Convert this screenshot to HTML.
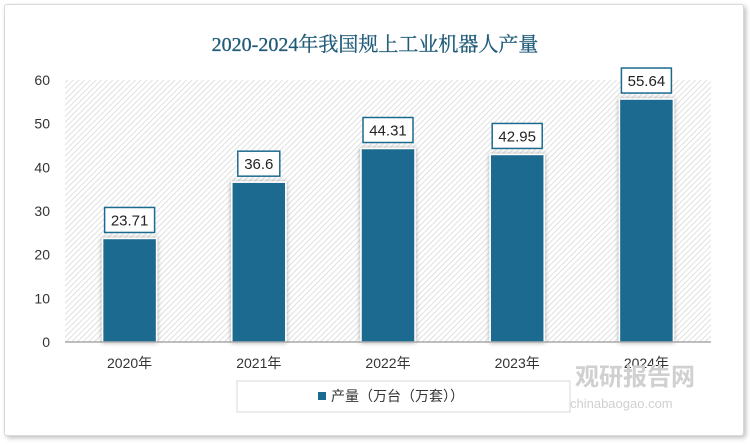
<!DOCTYPE html>
<html><head><meta charset="utf-8"><style>
body{margin:0;background:#fff;width:750px;height:445px;overflow:hidden;font-family:"Liberation Sans","Noto Sans CJK SC",sans-serif}
#frame{position:absolute;left:4px;top:4px;width:738px;height:430px;border:1px solid #d9d9d9;border-radius:3px;box-shadow:2px 2px 5px rgba(0,0,0,0.25);background:#fff}
</style></head><body>
<div id="frame"></div>
<svg id="c" width="750" height="445" style="position:absolute;left:0;top:0">
<defs>
<pattern id="hatch" width="4" height="4" patternUnits="userSpaceOnUse" patternTransform="rotate(45)">
<rect width="4" height="4" fill="#fff"/><line x1="0" y1="0" x2="0" y2="4" stroke="#d4d4d4" stroke-width="1.4"/>
</pattern>
<filter id="sh" x="-20%" y="-20%" width="140%" height="140%"><feDropShadow dx="0" dy="0" stdDeviation="2.5" flood-color="#000" flood-opacity="0.35"/></filter>
</defs>
<text x="375" y="51" text-anchor="middle" font-family="'Liberation Serif','Noto Serif CJK SC',serif" font-size="20" fill="#1f5a78" stroke="#1f5a78" stroke-width="0.3">2020-2024年我国规上工业机器人产量</text>
<rect x="65" y="80" width="646" height="262" fill="url(#hatch)"/>
<g id="yt"></g><g id="bars"></g>
<line x1="65" y1="342" x2="711" y2="342" stroke="#7f7f7f" stroke-width="1"/>
<rect x="237" y="381" width="333" height="31" fill="#fff" stroke="#d9d9d9"/>
<rect x="318" y="392" width="8" height="8" fill="#1b6a8f"/>
<text x="331" y="401" font-size="14" fill="#333">产量（万台（万套））</text>
<text x="575" y="385" font-size="24" font-weight="bold" fill="#d0d0d0">观研报告网</text>
<text x="570" y="408" font-size="13" fill="#d0d0d0">chinabaogao.com</text>
</svg>
<script>
const categories=["2020年","2021年","2022年","2023年","2024年"];
const values=[23.71,36.6,44.31,42.95,55.64];
const labels=["23.71","36.6","44.31","42.95","55.64"];
const yTicks=[0,10,20,30,40,50,60];
const NS="http://www.w3.org/2000/svg";
const x0=65,x1=711,y0=342,y1=80,ymax=60;
const y=v=>y0-(v/ymax)*(y0-y1);
const band=(x1-x0)/categories.length;
const xc=i=>x0+band*(i+0.5);
function mk(t,a,p){const e=document.createElementNS(NS,t);for(const k in a)e.setAttribute(k,a[k]);p.appendChild(e);return e;}
const yt=document.getElementById('yt'),bars=document.getElementById('bars');
yTicks.forEach(v=>{const t=mk('text',{x:50,y:y(v)+5,'text-anchor':'end','font-size':14,fill:'#333'},yt);t.textContent=v;

});
categories.forEach((c,i)=>{
const bw=54,cx=xc(i);
const r=mk('rect',{x:cx-bw/2,y:y(values[i]),width:bw,height:y0-y(values[i]),fill:'#1b6a8f',stroke:'#fff','stroke-width':1.5,filter:'url(#sh)'},bars);


const lw=labels[i].length*8+10;
const b=mk('rect',{x:cx-lw/2,y:y(values[i])-31,width:lw,height:25,fill:'#fff',stroke:'#1b6a8f','stroke-width':1.5},bars);


const t=mk('text',{x:cx,y:y(values[i])-13,'text-anchor':'middle','font-size':15,fill:'#222'},bars);t.textContent=labels[i];


const xl=mk('text',{x:cx,y:368,'text-anchor':'middle','font-size':14,fill:'#333'},bars);xl.textContent=c;


});
</script>
</body></html>
